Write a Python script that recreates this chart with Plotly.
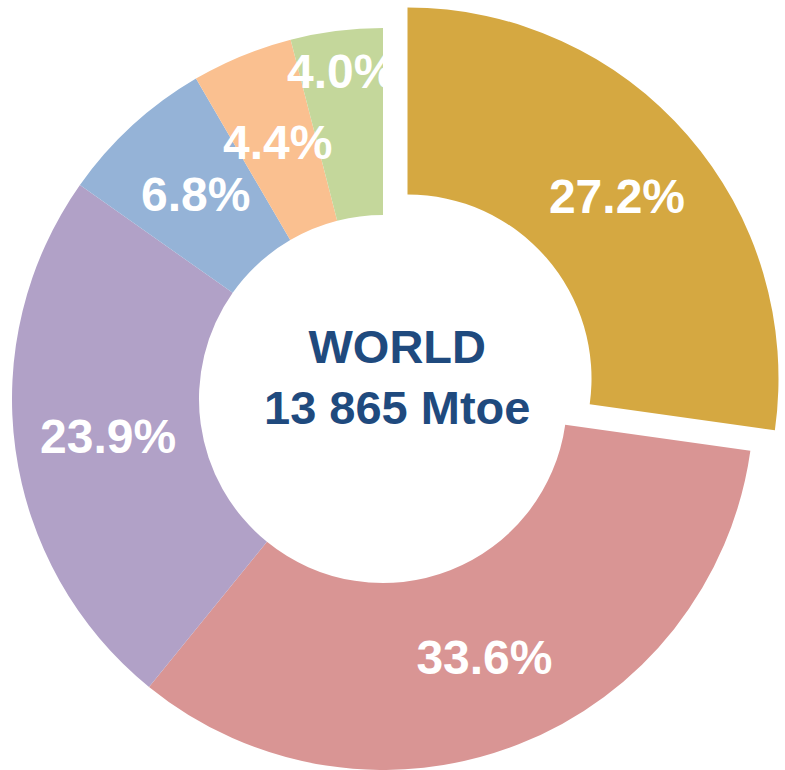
import math
import plotly.graph_objects as go

# ---- data ----
sectors = ["Gold", "Pink", "Purple", "Blue", "Peach", "Green"]
shares = [27.2, 33.6, 23.9, 6.8, 4.4, 4.0]
colors = ["#D5A841", "#D99594", "#B1A1C7", "#95B3D7", "#FAC090", "#C4D79B"]
pulled = [True, False, False, False, False, False]
center_title = "WORLD"
center_total = "13 865 Mtoe"

# ---- layout constants (pixels) ----
W, H = 785, 770
CX, CY, R = 383, 399, 371
PULL_DX, PULL_DY = 24.5, -20.5
HOLE = 0.496
FONT = "Liberation Sans, Arial, sans-serif"
LABEL_SIZE = 48
CLEAR = "rgba(0,0,0,0)"
# slices whose label sits on the middle of the ring (placed as annotations)
MID_RING_LABELS = ["Blue", "Peach"]


def domain(cx, cy, r):
    return dict(x=[(cx - r) / W, (cx + r) / W],
                y=[1 - (cy + r) / H, 1 - (cy - r) / H])


def trace(show_pulled, cx, cy):
    vis = [p == show_pulled for p in pulled]
    native = [v and s not in MID_RING_LABELS for v, s in zip(vis, sectors)]
    return go.Pie(
        labels=sectors,
        values=shares,
        sort=False,
        direction="clockwise",
        rotation=0,
        hole=HOLE,
        domain=domain(cx, cy, R),
        marker=dict(colors=[c if v else CLEAR for c, v in zip(colors, vis)],
                    line=dict(width=0)),
        texttemplate="%{value:.1f}%",
        textposition=["inside" if n else "none" for n in native],
        insidetextorientation="horizontal",
        textfont=dict(family=FONT, size=LABEL_SIZE, color="white", weight="bold"),
        showlegend=False,
        hoverinfo="skip",
    )


fig = go.Figure([trace(False, CX, CY), trace(True, CX + PULL_DX, CY + PULL_DY)])

# labels on the middle of the ring for the narrow slices
total = sum(shares)
r_mid = R * (1 + HOLE) / 2
cum = 0.0
for s, v, p in zip(sectors, shares, pulled):
    theta = 2 * math.pi * (cum + v / 2) / total
    cum += v
    if s not in MID_RING_LABELS:
        continue
    cx = CX + (PULL_DX if p else 0)
    cy = CY + (PULL_DY if p else 0)
    px = cx + r_mid * math.sin(theta)
    py = cy - r_mid * math.cos(theta)
    fig.add_annotation(
        x=px / W, y=1 - py / H, xref="paper", yref="paper",
        xanchor="center", yanchor="middle", showarrow=False,
        text=f"{v:.1f}%",
        font=dict(family=FONT, size=LABEL_SIZE, color="white", weight="bold"),
    )

fig.add_annotation(
    x=397 / W, y=1 - 377 / H, xref="paper", yref="paper",
    xanchor="center", yanchor="middle", showarrow=False,
    text=f"{center_title}<br>{center_total}",
    font=dict(family=FONT, size=47, color="#1F4A7E", weight="bold"),
)

fig.update_layout(
    width=W, height=H,
    margin=dict(l=0, r=0, t=0, b=0),
    paper_bgcolor="white", plot_bgcolor="white",
    uniformtext=dict(minsize=LABEL_SIZE, mode="show"),
)

fig.write_html("out.html",
               config={"displayModeBar": False},
               post_script="document.body.style.margin='0px';"
                           "document.body.style.overflow='hidden';")
